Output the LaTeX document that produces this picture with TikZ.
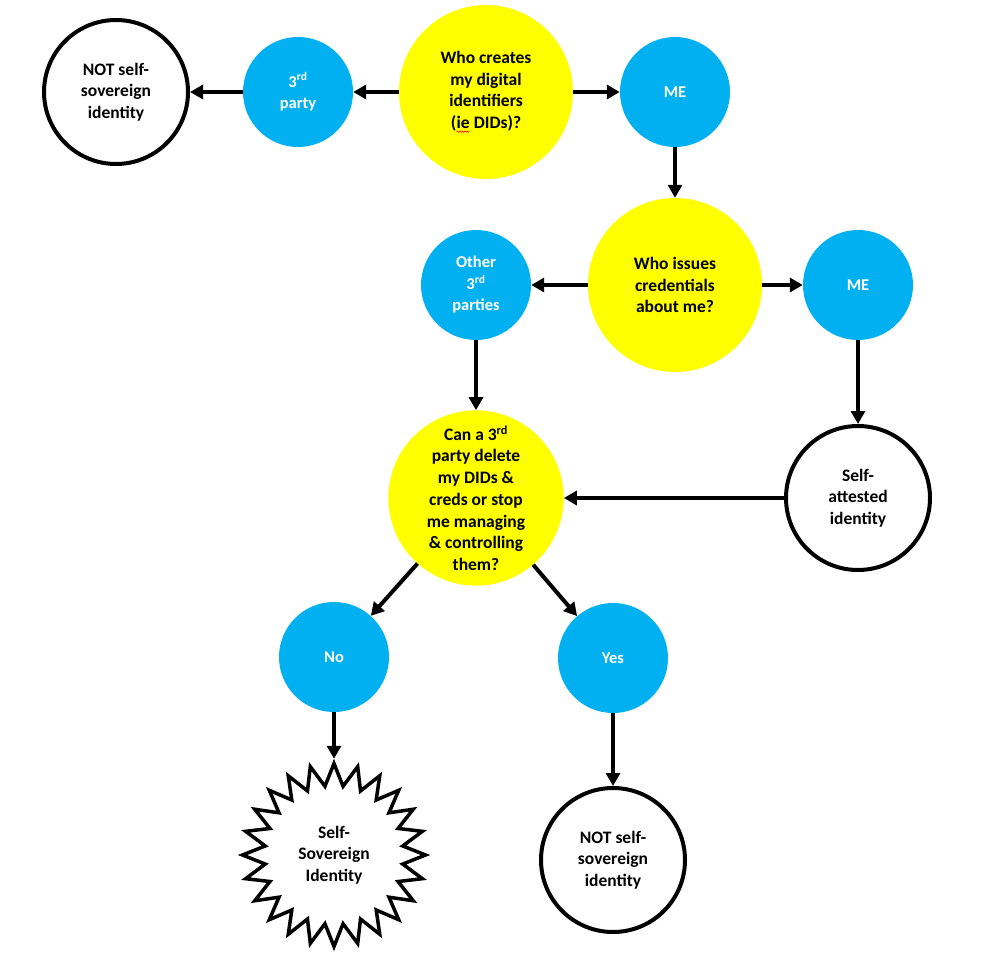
\documentclass[tikz,border=0pt]{standalone}
\usepackage{fontspec}
\setmainfont{Carlito}
\usetikzlibrary{arrows.meta,shapes.geometric,decorations.pathmorphing}
\definecolor{qyellow}{HTML}{FFFF00}
\definecolor{qblue}{HTML}{00B0F0}
\newcommand\squig[1]{\tikz[baseline=(w.base)]{\node[shape=rectangle,draw=none,fill=none,minimum size=0pt,inner sep=0pt,outer sep=0pt](w){#1};\draw[red,line width=0.6pt,decorate,decoration={snake,amplitude=0.7pt,segment length=2.5pt}]([yshift=-3pt]w.base west)--([yshift=-3pt]w.base east);}}
\tikzset{
  bigfont/.style={font=\bfseries\fontsize{17.5}{21.7}\selectfont},
  yq/.style={circle,fill=qyellow,minimum size=174pt,inner sep=0pt,align=center,bigfont},
  bq/.style={circle,fill=qblue,minimum size=110pt,inner sep=0pt,align=center,text=white,font=\bfseries\fontsize{16.5}{21.5}\selectfont},
  wq/.style={circle,draw=black,line width=4pt,fill=white,minimum size=144pt,inner sep=0pt,align=center,bigfont},
  starq/.style={star,star points=24,star point ratio=1.32,minimum size=183pt,inner sep=0pt,draw=black,line width=3.5pt,fill=white,align=center,bigfont},
  arr/.style={line width=4pt,-{Triangle[length=13pt,width=14pt]}},
}
\begin{document}
\begin{tikzpicture}[x=1pt,y=-1pt]
\useasboundingbox (0,0) rectangle (991,960);
\node[wq] (nss1) at (116,92) {NOT self-\\sovereign\\identity};
\node[bq] (third) at (298,92) {3\textsuperscript{rd}\\party};
\node[yq] (who) at (486,92) {Who creates\\my digital\\identifiers\\(\squig{ie} DIDs)?};
\node[bq] (me1) at (675,92) {ME};
\node[yq] (issues) at (675,285) {Who issues\\credentials\\about me?};
\node[bq] (other) at (476,285) {Other\\3\textsuperscript{rd}\\parties};
\node[bq] (me2) at (858,285) {ME};
\node[yq] (can) at (476,498) {Can a 3\textsuperscript{rd}\\party delete\\my DIDs \&\\creds or stop\\me managing\\\& controlling\\them?};
\node[wq] (selfatt) at (858,498) {Self-\\attested\\identity};
\node[bq] (no) at (334,657) {No};
\node[bq] (yes) at (613,658) {Yes};
\node[starq] (ssi) at (334,855) {Self-\\Sovereign\\Identity};
\node[wq] (nss2) at (613,860) {NOT self-\\sovereign\\identity};

\draw[arr] (who) -- (third);
\draw[arr] (third) -- (nss1);
\draw[arr] (who) -- (me1);
\draw[arr] (me1) -- (issues);
\draw[arr] (issues) -- (other);
\draw[arr] (issues) -- (me2);
\draw[arr] (other) -- (can);
\draw[arr] (me2) -- (selfatt);
\draw[arr] (selfatt) -- (can);
\draw[arr] (can) -- (no);
\draw[arr] (can) -- (yes);
\draw[arr] (no) -- (ssi);
\draw[arr] (yes) -- (nss2);
\end{tikzpicture}
\end{document}
